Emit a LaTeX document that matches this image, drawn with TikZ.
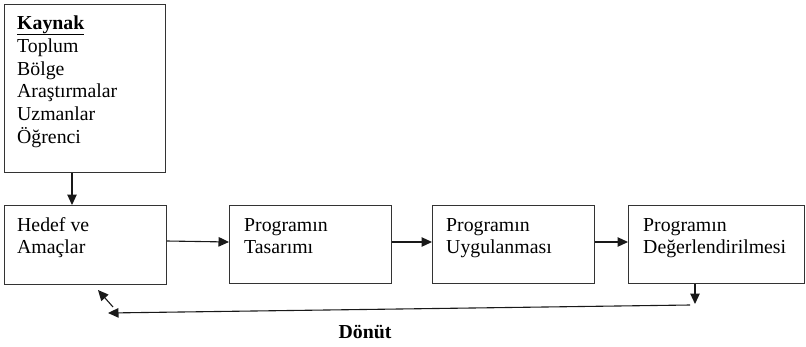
\documentclass[tikz,border=0pt]{standalone}
\usepackage{fontspec}
\setmainfont{Liberation Serif}
\usetikzlibrary{arrows.meta}
\begin{document}
\begin{tikzpicture}[x=1pt,y=-1pt,
  box/.style={draw=black!80,line width=1pt,rectangle,inner sep=0pt},
  txt/.style={anchor=base west,inner sep=0pt,font=\fontsize{19.8}{22.7}\selectfont},
  arr/.style={draw=black!90,line width=1.1pt,-{Triangle[length=10.5pt,width=9.5pt]}}]
\useasboundingbox (0,0) rectangle (806,346);
% boxes
\node[box,minimum width=161pt,minimum height=168pt,anchor=north west] (kay) at (4,4) {};
\node[box,minimum width=162pt,minimum height=79pt,anchor=north west] (hed) at (4,205) {};
\node[box,minimum width=162pt,minimum height=78pt,anchor=north west] (tas) at (229,205) {};
\node[box,minimum width=162pt,minimum height=78pt,anchor=north west] (uyg) at (432,205) {};
\node[box,minimum width=176pt,minimum height=78pt,anchor=north west] (deg) at (628,205) {};
% texts
\node[txt] (k1) at (17,29) {\underline{\textbf{Kaynak}}};
\node[txt] (k2) at (17,52) {Toplum};
\node[txt] (k3) at (17,75) {Bölge};
\node[txt] (k4) at (17,97.5) {Araştırmalar};
\node[txt] (k5) at (17,120) {Uzmanlar};
\node[txt] (k6) at (17,143) {Öğrenci};
\node[txt] (h1) at (17,231) {Hedef ve};
\node[txt] (h2) at (17,253) {Amaçlar};
\node[txt] (t1) at (244,231) {Programın};
\node[txt] (t2) at (244,253) {Tasarımı};
\node[txt] (u1) at (446,231) {Programın};
\node[txt] (u2) at (446,253) {Uygulanması};
\node[txt] (d1t) at (643,231) {Programın};
\node[txt] (d2t) at (643,253) {Değerlendirilmesi};
\node[font=\fontsize{19.8}{22.7}\selectfont\bfseries,inner sep=0pt,anchor=base] (don) at (365,338) {Dönüt};
% connectors
\draw[arr] (kay.south -| 72,0) -- (hed.north -| 72,0);
\draw[arr] (hed.east |- 0,241) -- (tas.west |- 0,242);
\draw[arr] (tas.east |- 0,242) -- (uyg.west |- 0,242);
\draw[arr] (uyg.east |- 0,242) -- (deg.west |- 0,242);
\coordinate (d1) at (695,304);
\draw[arr] (deg.south -| d1) -- (d1);
\coordinate (fbR) at (690,305);
\coordinate (fbL) at (108,313);
\draw[arr] (fbR) -- (fbL);
\coordinate (diagA) at (113,307);
\coordinate (diagB) at (98,290);
\draw[arr] (diagA) -- (diagB);
\end{tikzpicture}
\end{document}
